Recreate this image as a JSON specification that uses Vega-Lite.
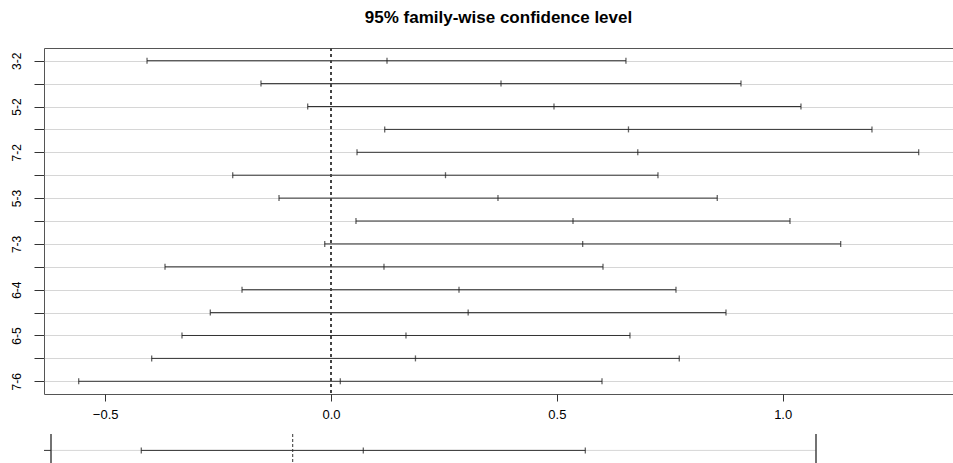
{
  "$schema": "https://vega.github.io/schema/vega-lite/v6.json",
  "padding": {"left": 9, "top": 8, "right": 0, "bottom": 0},
  "spacing": 11,
  "config": {
    "font": "Liberation Sans",
    "view": {"stroke": "#555", "strokeWidth": 1}
  },
  "resolve": {"scale": {"x": "independent", "y": "independent"}},
  "vconcat": [
    {
      "width": 909,
      "height": 346,
      "title": {"text": "95% family-wise confidence level", "font": "Liberation Sans", "fontSize": 17, "fontWeight": "bold", "color": "#000", "anchor": "middle", "frame": "group", "offset": 21},
      "data": {"values": [
        {"comp": "3-2", "lwr": -0.4073, "diff": 0.1240, "upr": 0.6530},
        {"comp": "4-2", "lwr": -0.1550, "diff": 0.3764, "upr": 0.9077},
        {"comp": "5-2", "lwr": -0.0516, "diff": 0.4937, "upr": 1.0405},
        {"comp": "6-2", "lwr": 0.1189, "diff": 0.6586, "upr": 1.1977},
        {"comp": "7-2", "lwr": 0.0576, "diff": 0.6792, "upr": 1.3011},
        {"comp": "4-3", "lwr": -0.2176, "diff": 0.2535, "upr": 0.7239},
        {"comp": "5-3", "lwr": -0.1151, "diff": 0.3697, "upr": 0.8552},
        {"comp": "6-3", "lwr": 0.0553, "diff": 0.5358, "upr": 1.0162},
        {"comp": "7-3", "lwr": -0.0139, "diff": 0.5572, "upr": 1.1284},
        {"comp": "5-4", "lwr": -0.3675, "diff": 0.1173, "upr": 0.6022},
        {"comp": "6-4", "lwr": -0.1970, "diff": 0.2834, "upr": 0.7638},
        {"comp": "7-4", "lwr": -0.2672, "diff": 0.3037, "upr": 0.8745},
        {"comp": "6-5", "lwr": -0.3299, "diff": 0.1660, "upr": 0.6619},
        {"comp": "7-5", "lwr": -0.3970, "diff": 0.1870, "upr": 0.7711},
        {"comp": "7-6", "lwr": -0.5586, "diff": 0.0206, "upr": 0.6000}
      ]},
      "layer": [
        {
          "mark": {"type": "rule", "color": "#333", "strokeWidth": 1},
          "encoding": {
            "y": {"field": "comp", "type": "nominal", "sort": ["3-2","4-2","5-2","6-2","7-2","4-3","5-3","6-3","7-3","5-4","6-4","7-4","6-5","7-5","7-6"],
                  "scale": {"type": "point", "padding": 0.555},
                  "axis": {"title": null, "domain": false, "grid": true, "gridColor": "#d6d6d6", "gridWidth": 1,
                           "ticks": true, "tickSize": 10, "tickColor": "#333", "labelAngle": -90, "labelPadding": 11,
                           "labelFont": "Liberation Sans", "labelFontSize": 12, "labelColor": "#000",
                           "labelExpr": "indexof(['3-2','5-2','7-2','5-3','7-3','6-4','6-5','7-6'], datum.value) >= 0 ? datum.value : ''"}},
            "x": {"field": "lwr", "type": "quantitative",
                  "scale": {"domain": [-0.6354, 1.3771], "nice": false, "zero": false},
                  "axis": {"title": null, "values": [-0.5, 0, 0.5, 1], "format": ".1f", "grid": false, "domain": false,
                           "tickSize": 7, "tickColor": "#333", "labelPadding": 7, "labelFont": "Liberation Sans",
                           "labelFontSize": 13, "labelColor": "#000"}},
            "x2": {"field": "upr"}
          }
        },
        {
          "transform": [{"fold": ["lwr", "diff", "upr"], "as": ["key", "val"]}],
          "mark": {"type": "tick", "orient": "vertical", "color": "#222", "size": 6, "thickness": 1.3},
          "encoding": {
            "y": {"field": "comp", "type": "nominal", "sort": ["3-2","4-2","5-2","6-2","7-2","4-3","5-3","6-3","7-3","5-4","6-4","7-4","6-5","7-5","7-6"]},
            "x": {"field": "val", "type": "quantitative"}
          }
        },
        {
          "mark": {"type": "rule", "color": "#444", "strokeWidth": 1, "strokeDash": [3, 3]},
          "encoding": {"x": {"datum": 0, "type": "quantitative"}}
        }
      ]
    },
    {
      "width": 909,
      "height": 40,
      "view": {"stroke": null},
      "data": {"values": [
        {"part": "frame", "x1": -0.5351, "x2": -0.5351, "y1": 0, "y2": 1},
        {"part": "frame", "x1": 1.1585, "x2": 1.1585, "y1": 0, "y2": 1},
        {"part": "grid", "x1": -0.5351, "x2": 1.1585, "y1": 0.41, "y2": 0.41},
        {"part": "tick", "x1": -0.5506, "x2": -0.5351, "y1": 0.41, "y2": 0.41},
        {"part": "ci", "x1": -0.3352, "x2": 0.6478, "y1": 0.41, "y2": 0.41},
        {"part": "zero", "x1": 0, "x2": 0, "y1": 0, "y2": 1}
      ]},
      "layer": [
        {
          "transform": [{"filter": "datum.part == 'grid'"}],
          "mark": {"type": "rule", "color": "#d6d6d6", "strokeWidth": 1},
          "encoding": {
            "x": {"field": "x1", "type": "quantitative", "scale": {"domain": [-0.5506, 1.4618], "nice": false, "zero": false}, "axis": null},
            "x2": {"field": "x2"},
            "y": {"field": "y1", "type": "quantitative", "scale": {"domain": [0, 1], "reverse": true, "nice": false}, "axis": null},
            "y2": {"field": "y2"}
          }
        },
        {
          "transform": [{"filter": "datum.part == 'frame'"}],
          "mark": {"type": "rule", "color": "#444", "strokeWidth": 1.5},
          "encoding": {
            "x": {"field": "x1", "type": "quantitative"},
            "x2": {"field": "x2"},
            "y": {"field": "y1", "type": "quantitative"},
            "y2": {"field": "y2"}
          }
        },
        {
          "transform": [{"filter": "datum.part == 'tick' || datum.part == 'ci'"}],
          "mark": {"type": "rule", "color": "#333", "strokeWidth": 1},
          "encoding": {
            "x": {"field": "x1", "type": "quantitative"},
            "x2": {"field": "x2"},
            "y": {"field": "y1", "type": "quantitative"},
            "y2": {"field": "y2"}
          }
        },
        {
          "transform": [{"filter": "datum.part == 'zero'"}],
          "mark": {"type": "rule", "color": "#333", "strokeWidth": 1, "strokeDash": [3, 2]},
          "encoding": {
            "x": {"field": "x1", "type": "quantitative"},
            "y": {"field": "y1", "type": "quantitative"},
            "y2": {"field": "y2"}
          }
        },
        {
          "data": {"values": [
            {"v": -0.3352, "r": 0.41},
            {"v": 0.1563, "r": 0.41},
            {"v": 0.6478, "r": 0.41}
          ]},
          "mark": {"type": "tick", "orient": "vertical", "color": "#222", "size": 6, "thickness": 1.3},
          "encoding": {
            "x": {"field": "v", "type": "quantitative"},
            "y": {"field": "r", "type": "quantitative"}
          }
        }
      ]
    }
  ]
}
